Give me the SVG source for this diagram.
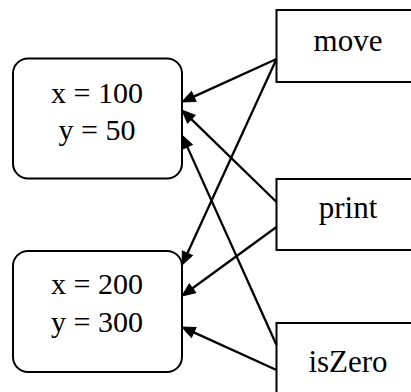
<svg xmlns="http://www.w3.org/2000/svg" width="411" height="392" viewBox="0 0 411 392">
<style>
.obj{fill:#fff;stroke:#000;stroke-width:2}
.fn{fill:#fff;stroke:#000;stroke-width:2}
text{font-family:"Liberation Serif","Times New Roman",serif;font-size:30px;fill:#000;text-anchor:middle}
.lbl{font-size:31px}
.edge{stroke:#000;stroke-width:2.3;fill:none;marker-end:url(#arr)}
</style>
<defs>
<marker id="arr" markerUnits="userSpaceOnUse" markerWidth="16" markerHeight="14" refX="0" refY="6" orient="auto" overflow="visible">
<path d="M0,0.5 L13,6 L0,11.5 z" fill="#000" stroke="#000" stroke-width="1"/>
</marker>
</defs>
<g id="obj1">
<rect class="obj" x="13" y="58.5" width="169" height="120" rx="15"/>
<text x="97" y="103">x = 100</text>
<text x="97" y="140">y = 50</text>
</g>
<g id="obj2">
<rect class="obj" x="13" y="251" width="169" height="121" rx="15"/>
<text x="97" y="294">x = 200</text>
<text x="97" y="332">y = 300</text>
</g>
<g id="move">
<rect class="fn" x="276.5" y="10" width="143" height="72"/>
<text class="lbl" x="348" y="51">move</text>
</g>
<g id="print">
<rect class="fn" x="276.5" y="179" width="143" height="71"/>
<text class="lbl" x="348" y="218">print</text>
</g>
<g id="isZero">
<rect class="fn" x="276.5" y="323" width="143" height="72"/>
<text class="lbl" x="348" y="372">isZero</text>
</g>
<g id="connectors">
<line class="edge" x1="276.5" y1="59" x2="193.8" y2="96.6"/>
<line class="edge" x1="276.5" y1="59" x2="187.4" y2="253.2"/>
<line class="edge" x1="276.5" y1="202" x2="191.3" y2="119.1"/>
<line class="edge" x1="276.5" y1="227" x2="192.5" y2="288.3"/>
<line class="edge" x1="276.5" y1="345" x2="187.3" y2="146.9"/>
<line class="edge" x1="276.5" y1="370" x2="193.8" y2="332.4"/>
</g>
</svg>
